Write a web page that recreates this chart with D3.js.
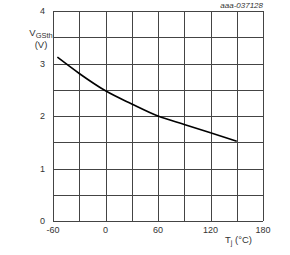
<!DOCTYPE html>
<html>
<head>
<meta charset="utf-8">
<script src="https://cdn.jsdelivr.net/npm/d3@7"></script>
<style>
  body { margin: 0; background: #fff; }
  text { font-family: "Liberation Sans", Arial, sans-serif; fill: #333; }
</style>
</head>
<body>
<div id="chart"></div>
<script>
// chart values
var tempC = [-55, -30, 0, 30, 60, 90, 120, 150];
var vgsth = [3.12, 2.81, 2.48, 2.23, 2.0, 1.84, 1.68, 1.52];
var xTicks = [-60, 0, 60, 120, 180];
var yTicks = [0, 1, 2, 3, 4];

var width = 290, height = 255;
// plot box edges (note: "top" is reserved on window, so use pTop etc.)
var pLeft = 53, pRight = 263, pTop = 11, pBottom = 221;

var svg = d3.select("#chart").append("svg")
  .attr("width", width)
  .attr("height", height);

var x = d3.scaleLinear().domain([-60, 180]).range([pLeft, pRight]);
var y = d3.scaleLinear().domain([0, 4]).range([pBottom, pTop]);

// grid lines every 30 degC and 0.5 V
var grid = svg.append("g").attr("stroke", "#444").attr("stroke-width", 1);
d3.range(-60, 181, 30).forEach(function(v) {
  grid.append("line")
    .attr("x1", Math.round(x(v)) + 0.5).attr("x2", Math.round(x(v)) + 0.5)
    .attr("y1", pTop).attr("y2", pBottom);
});
d3.range(0, 4.01, 0.5).forEach(function(v) {
  grid.append("line")
    .attr("x1", pLeft).attr("x2", pRight)
    .attr("y1", Math.round(y(v)) + 0.5).attr("y2", Math.round(y(v)) + 0.5);
});

// tick labels
svg.append("g").selectAll("text").data(xTicks).enter().append("text")
  .attr("x", function(d) { return x(d); })
  .attr("y", 233)
  .attr("text-anchor", "middle")
  .attr("font-size", 9)
  .text(function(d) { return d; });

svg.append("g").selectAll("text").data(yTicks).enter().append("text")
  .attr("x", 45)
  .attr("y", function(d) { return y(d) + 3; })
  .attr("text-anchor", "end")
  .attr("font-size", 9)
  .text(function(d) { return d; });

// axis titles
var yl = svg.append("text")
  .attr("x", 41).attr("y", 36)
  .attr("text-anchor", "middle")
  .attr("font-size", 9.5);
yl.append("tspan").text("V");
yl.append("tspan").attr("font-size", 7.5).attr("dy", 2).text("GSth");
svg.append("text")
  .attr("x", 41).attr("y", 48)
  .attr("text-anchor", "middle")
  .attr("font-size", 9.5)
  .text("(V)");

var xl = svg.append("text")
  .attr("x", 225).attr("y", 243)
  .attr("font-size", 9.5);
xl.append("tspan").text("T");
xl.append("tspan").attr("font-size", 7).attr("dy", 2).text("j");
xl.append("tspan").attr("dy", -2).text(" (°C)");

svg.append("text")
  .attr("x", 263).attr("y", 8)
  .attr("text-anchor", "end")
  .attr("font-size", 8)
  .attr("font-style", "italic")
  .text("aaa-037128");

// curve
var pts = tempC.map(function(t, i) { return [t, vgsth[i]]; });
var line = d3.line()
  .x(function(d) { return x(d[0]); })
  .y(function(d) { return y(d[1]); })
  .curve(d3.curveMonotoneX);

svg.append("path")
  .datum(pts)
  .attr("d", line)
  .attr("fill", "none")
  .attr("stroke", "#000")
  .attr("stroke-width", 1.6);
</script>
</body>
</html>
